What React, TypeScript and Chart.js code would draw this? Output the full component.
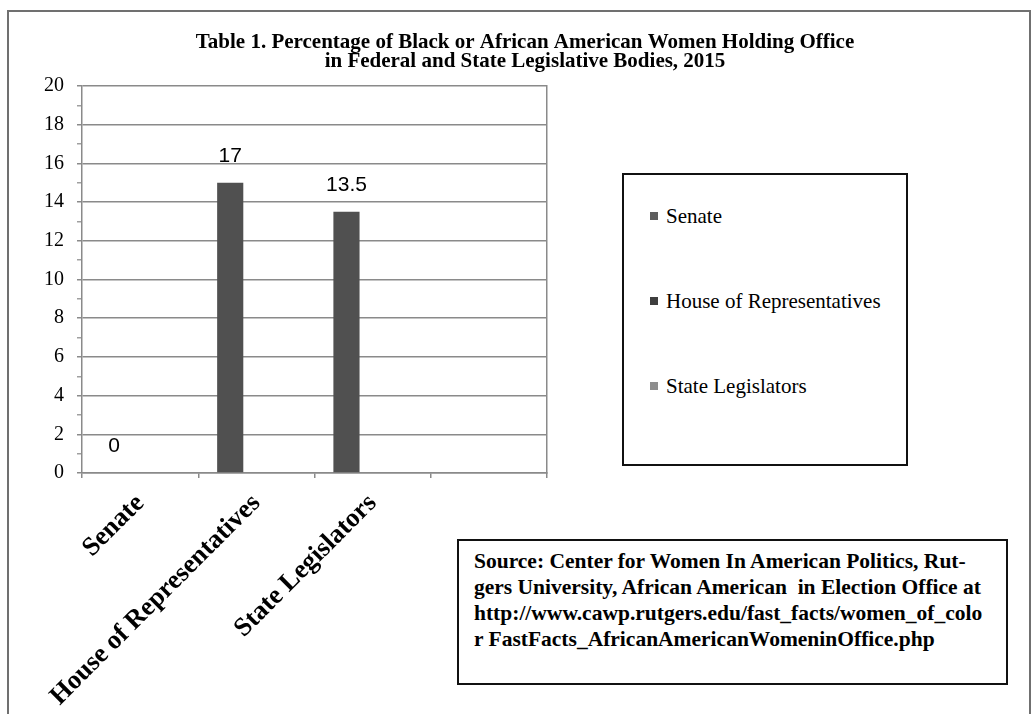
import React, { useEffect, useRef } from "react";
import { Chart, registerables } from "chart.js";

Chart.register(...registerables);

// ---- data ----
const categories = ["Senate", "House of Representatives", "State Legislators", ""];
const barValues: (number | null)[] = [0, 15, 13.5, null];
const spacerValues: (number | null)[] = [null, null, null, null];
const valueLabels = ["0", "17", "13.5"];
const legendLabels = ["Senate", "House of Representatives", "State Legislators"];
const yMin = 0;
const yMax = 20;
const yMinorStep = 1;
const yMajorStep = 2;
const titleLines = [
  "Table 1. Percentage of Black or African American Women Holding Office",
  "in Federal and State Legislative Bodies, 2015",
];
const sourceLines = [
  "Source: Center for Women In American Politics, Rut-",
  "gers University, African American  in Election Office at",
  "http://www.cawp.rutgers.edu/fast_facts/women_of_colo",
  "r FastFacts_AfricanAmericanWomeninOffice.php",
];

// ---- styles ----
const GRID = "#8a8a8a";
const BAR = "#505050";
const legendColors = ["#5e5e5e", "#3e3e3e", "#8e8e8e"];
const SERIF = '"Liberation Serif", "Times New Roman", serif';

const valueLabelPlugin = {
  id: "valueLabels",
  afterDatasetsDraw(chart: any) {
    const meta = chart.getDatasetMeta(0);
    const ctx = chart.ctx;
    ctx.save();
    ctx.font = '21px "Liberation Sans", Arial, sans-serif';
    ctx.fillStyle = "#000";
    ctx.textAlign = "center";
    ctx.textBaseline = "middle";
    valueLabels.forEach((t, i) => {
      const el = meta.data[i];
      if (!el) return;
      ctx.fillText(t, el.x, el.y - 27);
    });
    ctx.restore();
  },
};

function ChartCanvas() {
  const ref = useRef<HTMLCanvasElement | null>(null);
  useEffect(() => {
    if (!ref.current) return;
    const chart = new Chart(ref.current, {
      type: "bar",
      data: {
        labels: categories,
        datasets: [
          {
            label: "Percentage",
            data: barValues,
            backgroundColor: BAR,
            categoryPercentage: 0.9,
            barPercentage: 0.5,
            yAxisID: "y",
          },
          {
            label: "spacer",
            data: spacerValues,
            backgroundColor: BAR,
            categoryPercentage: 0.9,
            barPercentage: 0.5,
            yAxisID: "y",
          },
        ],
      },
      plugins: [valueLabelPlugin],
      options: {
        responsive: false,
        animation: false,
        layout: { padding: { left: 16, right: 0, top: 0, bottom: 0 } },
        plugins: {
          legend: { display: false },
          tooltip: { enabled: false },
          title: {
            display: true,
            text: titleLines,
            color: "#000",
            font: { family: SERIF, size: 21, weight: "bold", lineHeight: 0.86 },
            padding: { top: 34, bottom: 16 },
          },
        },
        scales: {
          x: {
            type: "category",
            offset: true,
            grid: {
              display: true,
              offset: true,
              drawOnChartArea: false,
              drawTicks: true,
              tickLength: 5,
              color: GRID,
              lineWidth: 1.5,
            },
            border: { display: true, color: GRID, width: 1.5 },
            ticks: {
              autoSkip: false,
              minRotation: 45,
              maxRotation: 45,
              padding: 10,
              color: "#000",
              font: { family: SERIF, size: 26.5, weight: "bold" },
            },
            afterFit(s: any) {
              s.height = 241;
            },
          },
          y: {
            type: "linear",
            position: "left",
            min: yMin,
            max: yMax,
            ticks: {
              stepSize: yMinorStep,
              autoSkip: false,
              padding: 13,
              color: "#000",
              font: { family: SERIF, size: 20 },
              callback: (v: any) => (Number(v) % yMajorStep === 0 ? String(v) : ""),
            },
            grid: {
              color: (c: any) =>
                c.tick && c.tick.value % yMajorStep !== 0 ? "rgba(0,0,0,0)" : GRID,
              tickColor: (c: any) =>
                c.tick && c.tick.value % yMajorStep !== 0 ? "#a0a0a0" : GRID,
              tickLength: 5,
              lineWidth: 1.5,
            },
            border: { display: true, color: GRID, width: 1.5 },
            afterFit(s: any) {
              s.width = 66;
            },
          },
          yR: {
            type: "linear",
            position: "right",
            display: true,
            grid: { display: false },
            ticks: { display: false },
            border: { display: true, color: GRID, width: 1.5 },
            afterFit(s: any) {
              s.width = 487;
            },
          },
        },
      } as any,
    });
    return () => chart.destroy();
  }, []);
  return (
    <canvas
      ref={ref}
      width={1034}
      height={714}
      style={{ position: "absolute", left: 0, top: 0, width: 1034, height: 714 }}
    />
  );
}

export default function App() {
  return (
    <div
      style={{
        position: "absolute",
        left: 0,
        top: 0,
        width: 1034,
        height: 714,
        overflow: "hidden",
        background: "#fff",
      }}
    >
      <div
        style={{
          position: "absolute",
          left: 7,
          top: 10,
          width: 1024,
          height: 720,
          border: "2px solid #707070",
          boxSizing: "border-box",
        }}
      />
      <ChartCanvas />
      <div
        style={{
          position: "absolute",
          left: 622,
          top: 173,
          width: 286,
          height: 293,
          border: "2px solid #111",
          boxSizing: "border-box",
          background: "#fff",
          fontFamily: SERIF,
          fontSize: 21,
          lineHeight: "24px",
          color: "#000",
        }}
      >
        {legendLabels.map((l, i) => (
          <div
            key={l}
            style={{
              position: "absolute",
              left: 26,
              top: 29 + i * 85,
              display: "flex",
              alignItems: "center",
              whiteSpace: "nowrap",
            }}
          >
            <span
              style={{
                display: "inline-block",
                width: 8,
                height: 8,
                background: legendColors[i],
                marginRight: 8,
              }}
            />
            <span>{l}</span>
          </div>
        ))}
      </div>
      <div
        style={{
          position: "absolute",
          left: 457,
          top: 539,
          width: 551,
          height: 146,
          border: "2px solid #111",
          boxSizing: "border-box",
          background: "#fff",
          fontFamily: SERIF,
          fontWeight: "bold",
          fontSize: 21.5,
          lineHeight: "26.3px",
          color: "#000",
          paddingLeft: 15,
          paddingTop: 6.6,
          whiteSpace: "pre",
        }}
      >
        {sourceLines.map((s, i) => (
          <div key={i}>{s}</div>
        ))}
      </div>
    </div>
  );
}
